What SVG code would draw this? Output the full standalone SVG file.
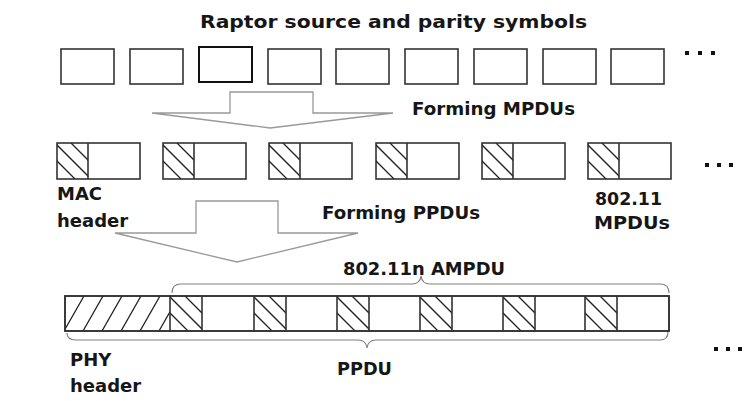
<svg xmlns="http://www.w3.org/2000/svg" width="744" height="401" viewBox="0 0 744 401">
<style>
text{font-family:"DejaVu Sans","Liberation Sans",sans-serif;font-weight:bold;fill:#161616;font-size:18px}
.box{fill:#fff;stroke:#333;stroke-width:1.6}
.hl{fill:none;stroke:#222;stroke-width:1.3}
.div{stroke:#333;stroke-width:1.6}
.arr{fill:#fff;stroke:#999;stroke-width:1.3;stroke-linejoin:miter}
.brace{fill:none;stroke:#808080;stroke-width:1.2}
.dot{fill:#111}
</style>
<defs>
<clipPath id="cm"><rect width="31" height="36"/></clipPath>
<clipPath id="cb"><rect width="32" height="35"/></clipPath>
<clipPath id="cp"><rect width="105" height="35"/></clipPath>
<g id="hm" clip-path="url(#cm)"><path class="hl" d="M-18,0L18,36M-2,0L34,36M14,0L50,36"/></g>
<g id="hb" clip-path="url(#cb)"><path class="hl" d="M-17,0L18,35M-1,0L34,35M15,0L50,35"/></g>
<g id="hp" clip-path="url(#cp)"><path class="hl" d="M-20,35L0,0M-1,35L19,0M18,35L38,0M37,35L57,0M56,35L76,0M75,35L95,0M94,35L114,0M113,35L133,0"/></g>
</defs>
<rect width="744" height="401" fill="#fff"/>

<g id="title"><text x="200" y="28" font-size="21" textLength="387" lengthAdjust="spacingAndGlyphs">Raptor source and parity symbols</text></g>

<g id="symbols">
<rect class="box" x="61" y="49" width="53" height="35"/>
<rect class="box" x="130" y="49" width="53" height="35"/>
<rect class="box" x="199" y="47" width="53" height="35" style="stroke:#111;stroke-width:2"/>
<rect class="box" x="268" y="49" width="53" height="35"/>
<rect class="box" x="336" y="49" width="53" height="35"/>
<rect class="box" x="405" y="49" width="53" height="35"/>
<rect class="box" x="474" y="49" width="53" height="35"/>
<rect class="box" x="543" y="49" width="53" height="35"/>
<rect class="box" x="611" y="49" width="53" height="35"/>
<rect class="dot" x="685" y="51" width="4" height="4"/>
<rect class="dot" x="698" y="51" width="4" height="4"/>
<rect class="dot" x="711" y="51" width="4" height="4"/>
</g>

<g id="connectors">
<path class="arr" d="M152,113L230,113L230,92L313,92L313,113L393,113L270,128Z"/>
<path class="arr" d="M115,233L196,233L196,201L278,201L278,233L358,233L237,262Z"/>
</g>

<g id="label-forming-mpdus"><text x="412" y="115" textLength="163" lengthAdjust="spacingAndGlyphs">Forming MPDUs</text></g>

<g id="mpdus">
<rect class="box" x="57" y="143" width="83" height="36"/><use href="#hm" x="57" y="143"/><line class="div" x1="88" y1="143" x2="88" y2="179"/>
<rect class="box" x="163" y="143" width="83" height="36"/><use href="#hm" x="163" y="143"/><line class="div" x1="194" y1="143" x2="194" y2="179"/>
<rect class="box" x="269" y="143" width="83" height="36"/><use href="#hm" x="269" y="143"/><line class="div" x1="300" y1="143" x2="300" y2="179"/>
<rect class="box" x="376" y="143" width="83" height="36"/><use href="#hm" x="376" y="143"/><line class="div" x1="407" y1="143" x2="407" y2="179"/>
<rect class="box" x="482" y="143" width="83" height="36"/><use href="#hm" x="482" y="143"/><line class="div" x1="513" y1="143" x2="513" y2="179"/>
<rect class="box" x="588" y="143" width="83" height="36"/><use href="#hm" x="588" y="143"/><line class="div" x1="619" y1="143" x2="619" y2="179"/>
<rect class="dot" x="705" y="163" width="4" height="4"/>
<rect class="dot" x="717" y="163" width="4" height="4"/>
<rect class="dot" x="729" y="163" width="4" height="4"/>
</g>

<g id="label-mac-header"><text x="57" y="200">MAC</text><text x="57" y="227">header</text></g>
<g id="label-80211-mpdus"><text x="595" y="205" textLength="67" lengthAdjust="spacingAndGlyphs">802.11</text><text x="594" y="229" textLength="76" lengthAdjust="spacingAndGlyphs">MPDUs</text></g>
<g id="label-forming-ppdus"><text x="322" y="219" textLength="158" lengthAdjust="spacingAndGlyphs">Forming PPDUs</text></g>

<g id="ampdu-brace">
<path class="brace" d="M172,293Q172,284 181,284L412,284Q420,284 421,276Q422,284 430,284L660,284Q669,284 669,293"/>
<text x="343" y="275" textLength="162" lengthAdjust="spacingAndGlyphs">802.11n AMPDU</text>
</g>

<g id="ppdu">
<rect class="box" x="65" y="296" width="604" height="35"/>
<use href="#hp" x="65" y="296"/>
<use href="#hb" x="170" y="296"/>
<use href="#hb" x="254" y="296"/>
<use href="#hb" x="337" y="296"/>
<use href="#hb" x="420" y="296"/>
<use href="#hb" x="503" y="296"/>
<use href="#hb" x="585" y="296"/>
<path class="div" d="M170,296V331M202,296V331M254,296V331M286,296V331M337,296V331M369,296V331M420,296V331M452,296V331M503,296V331M535,296V331M585,296V331M617,296V331"/>
<rect x="65" y="296" width="604" height="35" fill="none" stroke="#333" stroke-width="1.6"/>
</g>

<g id="ppdu-brace">
<path class="brace" d="M67,333Q67,340 76,340L358,340Q366,340 367,348Q368,340 376,340L660,340Q668,340 668,332"/>
<text x="337" y="375" textLength="55" lengthAdjust="spacingAndGlyphs">PPDU</text>
</g>

<g id="label-phy-header"><text x="70" y="366">PHY</text><text x="70" y="392">header</text></g>

<g id="more"><rect class="dot" x="714" y="347" width="4" height="4"/><rect class="dot" x="726" y="347" width="4" height="4"/><rect class="dot" x="738" y="347" width="4" height="4"/></g>
</svg>
